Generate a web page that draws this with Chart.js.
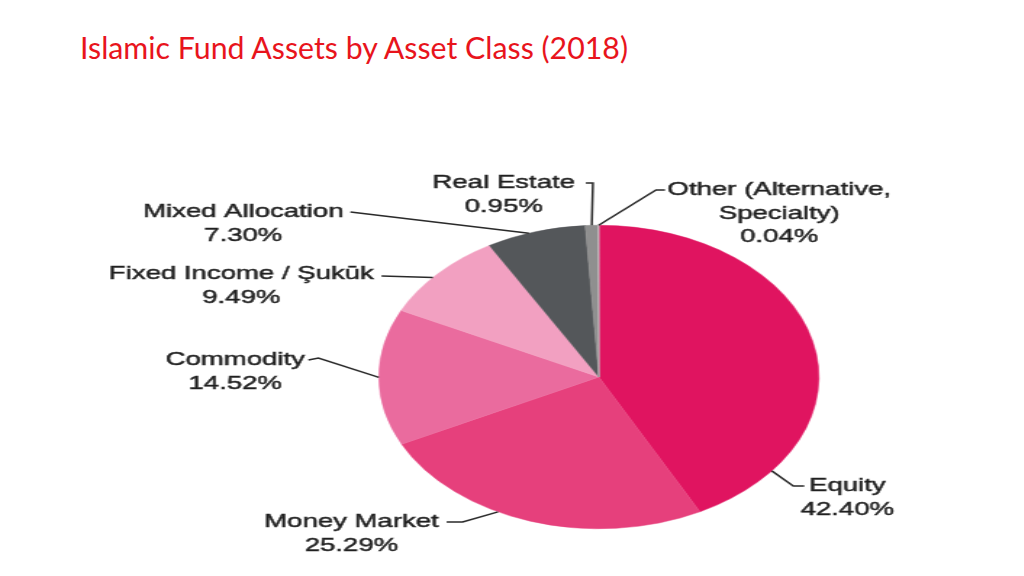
<!DOCTYPE html>
<html>
<head>
<meta charset="utf-8">
<script src="https://cdn.jsdelivr.net/npm/chart.js@4.4.1/dist/chart.umd.min.js"></script>
<style>
  html, body { margin: 0; padding: 0; background: #fff; }
  body { width: 1024px; height: 576px; position: relative; overflow: hidden; }
  #title {
    position: absolute; left: 80px; top: 29px;
    font-family: Lato, "Open Sans", sans-serif; font-size: 30.3px;
    color: #e8141c; white-space: nowrap;
  }
  #box { position: absolute; transform-origin: 0 0; }
</style>
</head>
<body>
<div id="title">Islamic Fund Assets by Asset Class (2018)</div>
<div id="box"><canvas id="pie"></canvas></div>
<script>
// data, clockwise from 12 o'clock
const categories = ['Equity', 'Money Market', 'Commodity', 'Fixed Income / Şukūk', 'Mixed Allocation', 'Real Estate', 'Other (Alternative,\nSpecialty)'];
const shares = [42.40, 25.29, 14.52, 9.49, 7.30, 0.95, 0.04];
const colors = ['#e01460', '#e6407c', '#ea6b9e', '#f2a0c1', '#54575a', '#8f8f8f', '#c9c9c9'];

// the source figure is stretched sideways, so the canvas is too
const BOX = { left: 100, top: 160, right: 900, bottom: 565 };
const PIE = { cx: 598, cy: 377, rx: 220, ry: 152 };
const S = PIE.rx / PIE.ry;

// label placement in page pixels: text centre, leader path, where on the slice the leader lands
const labelPos = [
    { x: 846, y: 486, path: [[803, 486], [792, 486]], at: 0.84 },
    { x: 351, y: 522, path: [[446, 522], [462, 522]], at: 0.6 },
    { x: 235, y: 360, path: [[308, 360], [318, 358]], at: 0.5 },
    { x: 241, y: 274, path: [[381, 276]], at: 0.44 },
    { x: 243, y: 212, path: [[350, 212]], at: 0.43 },
    { x: 503, y: 183, path: [[585, 183], [592, 183]], at: 0.5 },
    { x: 778, y: 190, path: [[664, 190], [655, 190]], at: 0.5 }
];

const W = (BOX.right - BOX.left) / S;
const H = BOX.bottom - BOX.top;
const box = document.getElementById('box');
box.style.left = BOX.left + 'px';
box.style.top = BOX.top + 'px';
box.style.width = W + 'px';
box.style.height = H + 'px';
box.style.transform = `scaleX(${S})`;

const ux = (px) => (px - BOX.left) / S;
const uy = (py) => py - BOX.top;

const leaderLabels = {
    id: 'leaderLabels',
    afterDraw: (chart) => {
        const ctx = chart.ctx;
        const arcs = chart.getDatasetMeta(0).data;
        ctx.save();
        ctx.strokeStyle = '#2a2a2a';
        ctx.fillStyle = '#1e1e1e';
        ctx.font = '19px "Liberation Sans", Arial, sans-serif';
        ctx.textAlign = 'center';
        ctx.textBaseline = 'middle';
        labelPos.forEach((lp, i) => {
            const arc = arcs[i];
            const a = arc.startAngle + lp.at * (arc.endAngle - arc.startAngle);
            ctx.lineWidth = 1.5;
            ctx.beginPath();
            lp.path.forEach((p, k) => {
                k == 0 ? ctx.moveTo(ux(p[0]), uy(p[1])) : ctx.lineTo(ux(p[0]), uy(p[1]));
            });
            ctx.lineTo(arc.x + arc.outerRadius * Math.cos(a), arc.y + arc.outerRadius * Math.sin(a));
            ctx.stroke();
            // light stroke on the glyphs to get the heavier look of the scan
            ctx.lineWidth = 0.5;
            const lines = categories[i].split('\n').concat([shares[i].toFixed(2) + '%']);
            lines.forEach((t, k) => {
                ctx.fillText(t, ux(lp.x), uy(lp.y) + k * 23.5);
                ctx.strokeText(t, ux(lp.x), uy(lp.y) + k * 23.5);
            });
        });
        ctx.restore();
    }
};

const cx = ux(PIE.cx), cy = uy(PIE.cy);
new Chart(document.getElementById('pie'), {
    type: 'pie',
    data: {
        labels: categories,
        datasets: [{
            data: shares,
            backgroundColor: colors,
            borderColor: colors,
            borderWidth: 0.5
        }]
    },
    options: {
        responsive: true,
        maintainAspectRatio: false,
        animation: false,
        layout: {
            padding: { left: cx - PIE.ry, right: W - cx - PIE.ry, top: cy - PIE.ry, bottom: H - cy - PIE.ry }
        },
        plugins: { legend: { display: false }, tooltip: { enabled: false } }
    },
    plugins: [leaderLabels]
});
</script>
</body>
</html>
